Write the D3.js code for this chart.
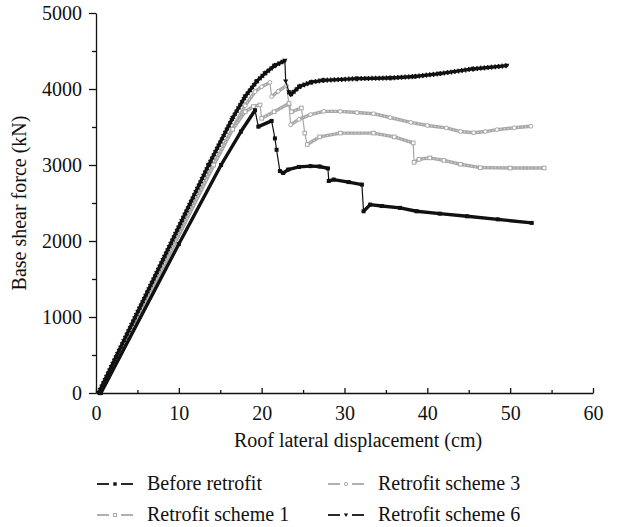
<!DOCTYPE html>
<html>
<head>
<meta charset="utf-8">
<script src="https://cdn.jsdelivr.net/npm/d3@7"></script>
<style>
  html, body { margin: 0; padding: 0; background: #fff; }
  svg text { font-family: "Liberation Serif", "DejaVu Serif", serif; fill: #111; }
</style>
</head>
<body>
<svg id="chart" width="629" height="527"></svg>
<script>
// ---- data (displacement in cm, base shear in kN) ----
const xTicks = [0, 10, 20, 30, 40, 50, 60];
const xMinorTicks = [5, 15, 25, 35, 45, 55];
const yTicks = [0, 1000, 2000, 3000, 4000, 5000];
const yMinorTicks = [500, 1500, 2500, 3500, 4500];

const beforeDisp  = [0.6, 10.0, 15.1, 17.5, 19.2, 19.6, 21.2, 21.6, 21.8, 22.2, 22.6, 23.2, 24.5, 25.9, 27.0, 28.0, 28.1, 28.7, 30.5, 32.1, 32.3, 33.1, 34.5, 36.7, 38.7, 41.5, 44.8, 48.5, 52.6];
const beforeForce = [0, 1960, 3000, 3440, 3720, 3505, 3580, 3350, 3200, 2920, 2895, 2940, 2975, 2985, 2980, 2955, 2790, 2808, 2775, 2742, 2391, 2479, 2460, 2436, 2391, 2360, 2325, 2285, 2238];

const scheme1Disp  = [0.5, 14.2, 16.5, 18.0, 19.0, 19.8, 20.0, 21.5, 23.3, 23.6, 24.8, 25.2, 25.5, 27.0, 29.5, 33.5, 36.0, 38.3, 38.4, 39.0, 40.3, 42.0, 44.0, 46.4, 50.0, 54.1];
const scheme1Force = [0, 3000, 3470, 3700, 3770, 3790, 3614, 3700, 3810, 3700, 3750, 3420, 3270, 3370, 3420, 3420, 3370, 3290, 3035, 3075, 3093, 3060, 3010, 2965, 2960, 2961];

const scheme3Disp  = [0.5, 14.2, 16.5, 18.0, 19.2, 20.0, 21.0, 21.2, 22.0, 23.0, 23.3, 23.5, 24.5, 25.9, 27.5, 29.5, 31.5, 33.5, 35.5, 38.0, 40.0, 42.3, 44.0, 45.6, 47.0, 48.4, 50.5, 52.5];
const scheme3Force = [0, 3000, 3480, 3780, 3965, 4030, 4087, 3900, 3970, 4044, 3790, 3530, 3600, 3662, 3706, 3705, 3690, 3675, 3625, 3560, 3520, 3488, 3440, 3425, 3440, 3465, 3490, 3509];

const scheme6Disp  = [0.3, 13.6, 16.5, 18.0, 19.4, 20.4, 21.6, 22.8, 22.9, 23.3, 23.5, 24.6, 26.0, 27.4, 31.5, 35.5, 38.5, 41.5, 45.5, 49.6];
const scheme6Force = [0, 3000, 3620, 3900, 4100, 4206, 4310, 4373, 4100, 3960, 3925, 4035, 4090, 4114, 4136, 4145, 4165, 4202, 4264, 4307];

const seriesNames = ["Before retrofit", "Retrofit scheme 1", "Retrofit scheme 3", "Retrofit scheme 6"];

// ---- layout ----
const svg = d3.select("#chart");
const x = d3.scaleLinear().domain([0, 60]).range([96, 593]);
const y = d3.scaleLinear().domain([0, 5000]).range([393, 13]);
const FONT = 20;

const BLACK = "#111";
const GRAY = "#a8a8a8";

const series = [
  { name: seriesNames[2], xs: scheme3Disp, ys: scheme3Force, color: GRAY, marker: "circle" },
  { name: seriesNames[1], xs: scheme1Disp, ys: scheme1Force, color: GRAY, marker: "hsquare" },
  { name: seriesNames[0], xs: beforeDisp, ys: beforeForce, color: BLACK, marker: "square" },
  { name: seriesNames[3], xs: scheme6Disp, ys: scheme6Force, color: BLACK, marker: "triangle" }
];

function drawMarker(g, type, cx, cy, color, s) {
  s = s || 1;
  if (type === "square") {
    g.append("rect").attr("x", cx - 2 * s).attr("y", cy - 2 * s).attr("width", 4 * s).attr("height", 4 * s).attr("fill", color);
  } else if (type === "hsquare") {
    g.append("rect").attr("x", cx - 1.8 * s).attr("y", cy - 1.8 * s).attr("width", 3.6 * s).attr("height", 3.6 * s)
      .attr("fill", "#fff").attr("stroke", color).attr("stroke-width", 1);
  } else if (type === "circle") {
    g.append("circle").attr("cx", cx).attr("cy", cy).attr("r", 1.9 * s)
      .attr("fill", "#fff").attr("stroke", color).attr("stroke-width", 1);
  } else if (type === "triangle") {
    const r = 2.6 * s;
    g.append("path").attr("d", `M${cx - r},${cy - r * 0.7}L${cx + r},${cy - r * 0.7}L${cx},${cy + r * 0.9}Z`).attr("fill", color);
  }
}

// ---- curves ----
const plot = svg.append("g");
series.forEach(s => {
  const g = plot.append("g");
  const pts = s.xs.map((d, i) => [x(d), y(s.ys[i])]);
  g.append("path")
    .attr("d", d3.line()(pts))
    .attr("fill", "none").attr("stroke", s.color).attr("stroke-width", 1.2);
  for (let i = 1; i < pts.length; i++) {
    const dx = pts[i][0] - pts[i - 1][0], dy = pts[i][1] - pts[i - 1][1];
    const len = Math.hypot(dx, dy);
    if (len > 0 && Math.abs(dx) / len > 0.35) {
      g.append("line")
        .attr("x1", pts[i - 1][0]).attr("y1", pts[i - 1][1])
        .attr("x2", pts[i][0]).attr("y2", pts[i][1])
        .attr("stroke", s.color).attr("stroke-width", 3.4).attr("stroke-linecap", "round");
      if (s.marker === "circle" || s.marker === "hsquare") {
        g.append("line")
          .attr("x1", pts[i - 1][0]).attr("y1", pts[i - 1][1])
          .attr("x2", pts[i][0]).attr("y2", pts[i][1])
          .attr("stroke", "#e4e4e4").attr("stroke-width", 1).attr("stroke-dasharray", "1.2,2.4");
      }
      if (s.marker === "triangle") {
        g.append("line")
          .attr("x1", pts[i - 1][0]).attr("y1", pts[i - 1][1])
          .attr("x2", pts[i][0]).attr("y2", pts[i][1])
          .attr("stroke", s.color).attr("stroke-width", 5).attr("stroke-dasharray", "1.4,2.2");
      }
    }
  }
  pts.forEach(p => drawMarker(g, s.marker, p[0], p[1], s.color, 1));
});

// ---- axes ----
svg.append("g").attr("transform", `translate(0,${y(0)})`)
  .call(d3.axisBottom(x).tickValues(xTicks).tickSizeInner(-5).tickSizeOuter(0).tickPadding(13).tickFormat(d3.format("d")));
const xMinor = svg.append("g").attr("transform", `translate(0,${y(0)})`)
  .call(d3.axisBottom(x).tickValues(xMinorTicks).tickSizeInner(-3).tickSizeOuter(0).tickFormat(""));
xMinor.select(".domain").remove();

svg.append("g").attr("transform", `translate(${x(0)},0)`)
  .call(d3.axisLeft(y).tickValues(yTicks).tickSizeInner(7).tickSizeOuter(0).tickPadding(7).tickFormat(d3.format("d")));
const yMinor = svg.append("g").attr("transform", `translate(${x(0)},0)`)
  .call(d3.axisLeft(y).tickValues(yMinorTicks).tickSizeInner(4).tickSizeOuter(0).tickFormat(""));
yMinor.select(".domain").remove();

svg.selectAll(".domain, .tick line").attr("stroke", "#111").attr("stroke-width", 1.3);
svg.selectAll(".tick text").attr("font-size", FONT).attr("font-family", "Liberation Serif, serif").attr("fill", "#111");

// ---- titles ----
svg.append("text").attr("x", 358).attr("y", 447).attr("text-anchor", "middle")
  .attr("font-size", FONT).text("Roof lateral displacement (cm)");
svg.append("text").attr("transform", "translate(26,203) rotate(-90)").attr("text-anchor", "middle")
  .attr("font-size", FONT).text("Base shear force (kN)");

// ---- legend ----
const legendItems = [
  { name: seriesNames[0], color: BLACK, marker: "square", lx: 97, row: 0 },
  { name: seriesNames[1], color: GRAY, marker: "hsquare", lx: 97, row: 1 },
  { name: seriesNames[2], color: GRAY, marker: "circle", lx: 328, row: 0 },
  { name: seriesNames[3], color: BLACK, marker: "triangle", lx: 328, row: 1 }
];
const rowY = [484, 515];
const legend = svg.append("g");
legendItems.forEach(it => {
  const cy = rowY[it.row];
  const g = legend.append("g");
  g.append("line").attr("x1", it.lx).attr("x2", it.lx + 12).attr("y1", cy).attr("y2", cy)
    .attr("stroke", it.color).attr("stroke-width", 1.8);
  g.append("line").attr("x1", it.lx + 24).attr("x2", it.lx + 36).attr("y1", cy).attr("y2", cy)
    .attr("stroke", it.color).attr("stroke-width", 1.8);
  drawMarker(g, it.marker, it.lx + 18, cy, it.color, 0.85);
  g.append("text").attr("x", it.lx + 50).attr("y", cy + 6).attr("font-size", FONT).text(it.name);
});
</script>
</body>
</html>
